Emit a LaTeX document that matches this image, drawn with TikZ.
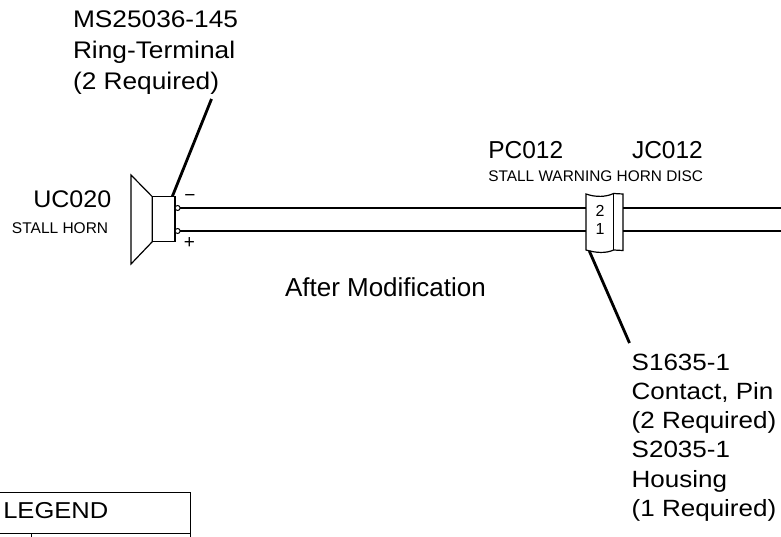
\documentclass[tikz,border=0pt]{standalone}
\usepackage{fontspec}
\setmainfont{Liberation Sans}
\usepackage{graphicx}
\begin{document}
\begin{tikzpicture}[x=1pt,y=-1pt,
  lbl/.style={inner sep=0pt, outer sep=0pt, anchor=base west},
  sym/.style={inner sep=0pt, outer sep=0pt, font=\fontsize{16}{18}\selectfont},
  shp/.style={line width=1.2pt, line join=miter},
  wire/.style={line width=1.5pt},
  leader/.style={line width=2.8pt},
  term/.style={circle, draw, line width=1pt, minimum size=5pt, inner sep=0pt, outer sep=0pt, fill=white},
]
\useasboundingbox (0,0) rectangle (781,537);

% ---- texts ----
\node[lbl] (ms) at (73,27.7) {\scalebox{1.095}[1]{\fontsize{24}{31}\selectfont\begin{tabular}[t]{@{}l@{}}MS25036-145\\Ring-Terminal\\(2 Required)\end{tabular}}};
\node[lbl] (uc) at (33.3,208) {\scalebox{1.044}[1]{\fontsize{24}{28}\selectfont UC020}};
\node[lbl] (sh) at (12,233.4) {\fontsize{15.5}{18}\selectfont STALL HORN};
\node[lbl] (pc) at (488.3,158.3) {\fontsize{24.5}{28}\selectfont PC012};
\node[lbl] (jc) at (632,158.3) {\fontsize{24.5}{28}\selectfont JC012};
\node[lbl] (sw) at (488.3,182) {\fontsize{15.4}{18}\selectfont STALL WARNING HORN DISC};
\node[lbl] (am) at (285,296.7) {\fontsize{26}{30}\selectfont After Modification};
\node[lbl] (sp) at (631.7,370) {\scalebox{1.107}[1]{\fontsize{23.5}{29.3}\selectfont\begin{tabular}[t]{@{}l@{}}S1635-1\\Contact, Pin\\(2 Required)\\S2035-1\\Housing\\(1 Required)\end{tabular}}};
\node[lbl] (lg) at (3.3,518.3) {\scalebox{1.11}[1]{\fontsize{23}{26}\selectfont LEGEND}};

% ---- horn ----
\draw[shp] (131,175) -- (152.3,196.7) -- (152.3,241.7) -- (131,264) -- cycle;
\node[draw, shp, inner sep=0pt, outer sep=0pt, minimum width=22.7pt, minimum height=45pt, anchor=north west] (hb) at (152.3,196.7) {};
\node[term] (tm) at (177.6,208) {};
\node[term] (tp) at (177.6,231) {};
\node[sym, font=\fontsize{19}{20}\selectfont] (minus) at (190,198.3) {−};
\node[sym, font=\fontsize{19}{20}\selectfont] (plus) at (189.4,243.3) {+};

% ---- connector PC012 / JC012 ----
\draw[shp] (586,194) .. controls (596,197.5) and (606,197) .. (613.6,193.5) -- (623,194)
  -- (623,250.5) -- (613.6,250) .. controls (606,253.5) and (596,253) .. (586,250) -- cycle;
\draw[shp] (613.6,193.5) -- (613.6,250);
\coordinate (c2l) at (586,208);
\coordinate (c1l) at (586,231);
\coordinate (c2r) at (623,208);
\coordinate (c1r) at (623,231);
\coordinate (e2) at (785,208);
\coordinate (e1) at (785,231);
\node[sym] (p2) at (600,210.7) {2};
\node[sym] (p1) at (600,229.3) {1};

% ---- wires ----
\draw[wire] (tm.east) -- (c2l);
\draw[wire] (tp.east) -- (c1l);
\draw[wire] (c2r) -- (e2);
\draw[wire] (c1r) -- (e1);

% ---- leaders ----
\coordinate (msl) at (211.5,99);
\coordinate (hbt) at (172.3,196.5);
\draw[leader] (msl) -- (hbt);
\coordinate (cb) at (589.3,251);
\coordinate (spl) at (629.5,343);
\draw[leader] (cb) -- (spl);

% ---- legend table ----
\coordinate (lg1) at (-3,492.3);
\coordinate (lg2) at (190.7,492.3);
\coordinate (lg3) at (190.7,545);
\coordinate (lg4) at (-3,533.3);
\coordinate (lg5) at (190.7,533.3);
\coordinate (lg6) at (31.7,533.3);
\coordinate (lg7) at (31.7,545);
\draw[line width=1pt] (lg1) -- (lg2) -- (lg3);
\draw[line width=1pt] (lg4) -- (lg5);
\draw[line width=1pt] (lg6) -- (lg7);
\end{tikzpicture}
\end{document}
